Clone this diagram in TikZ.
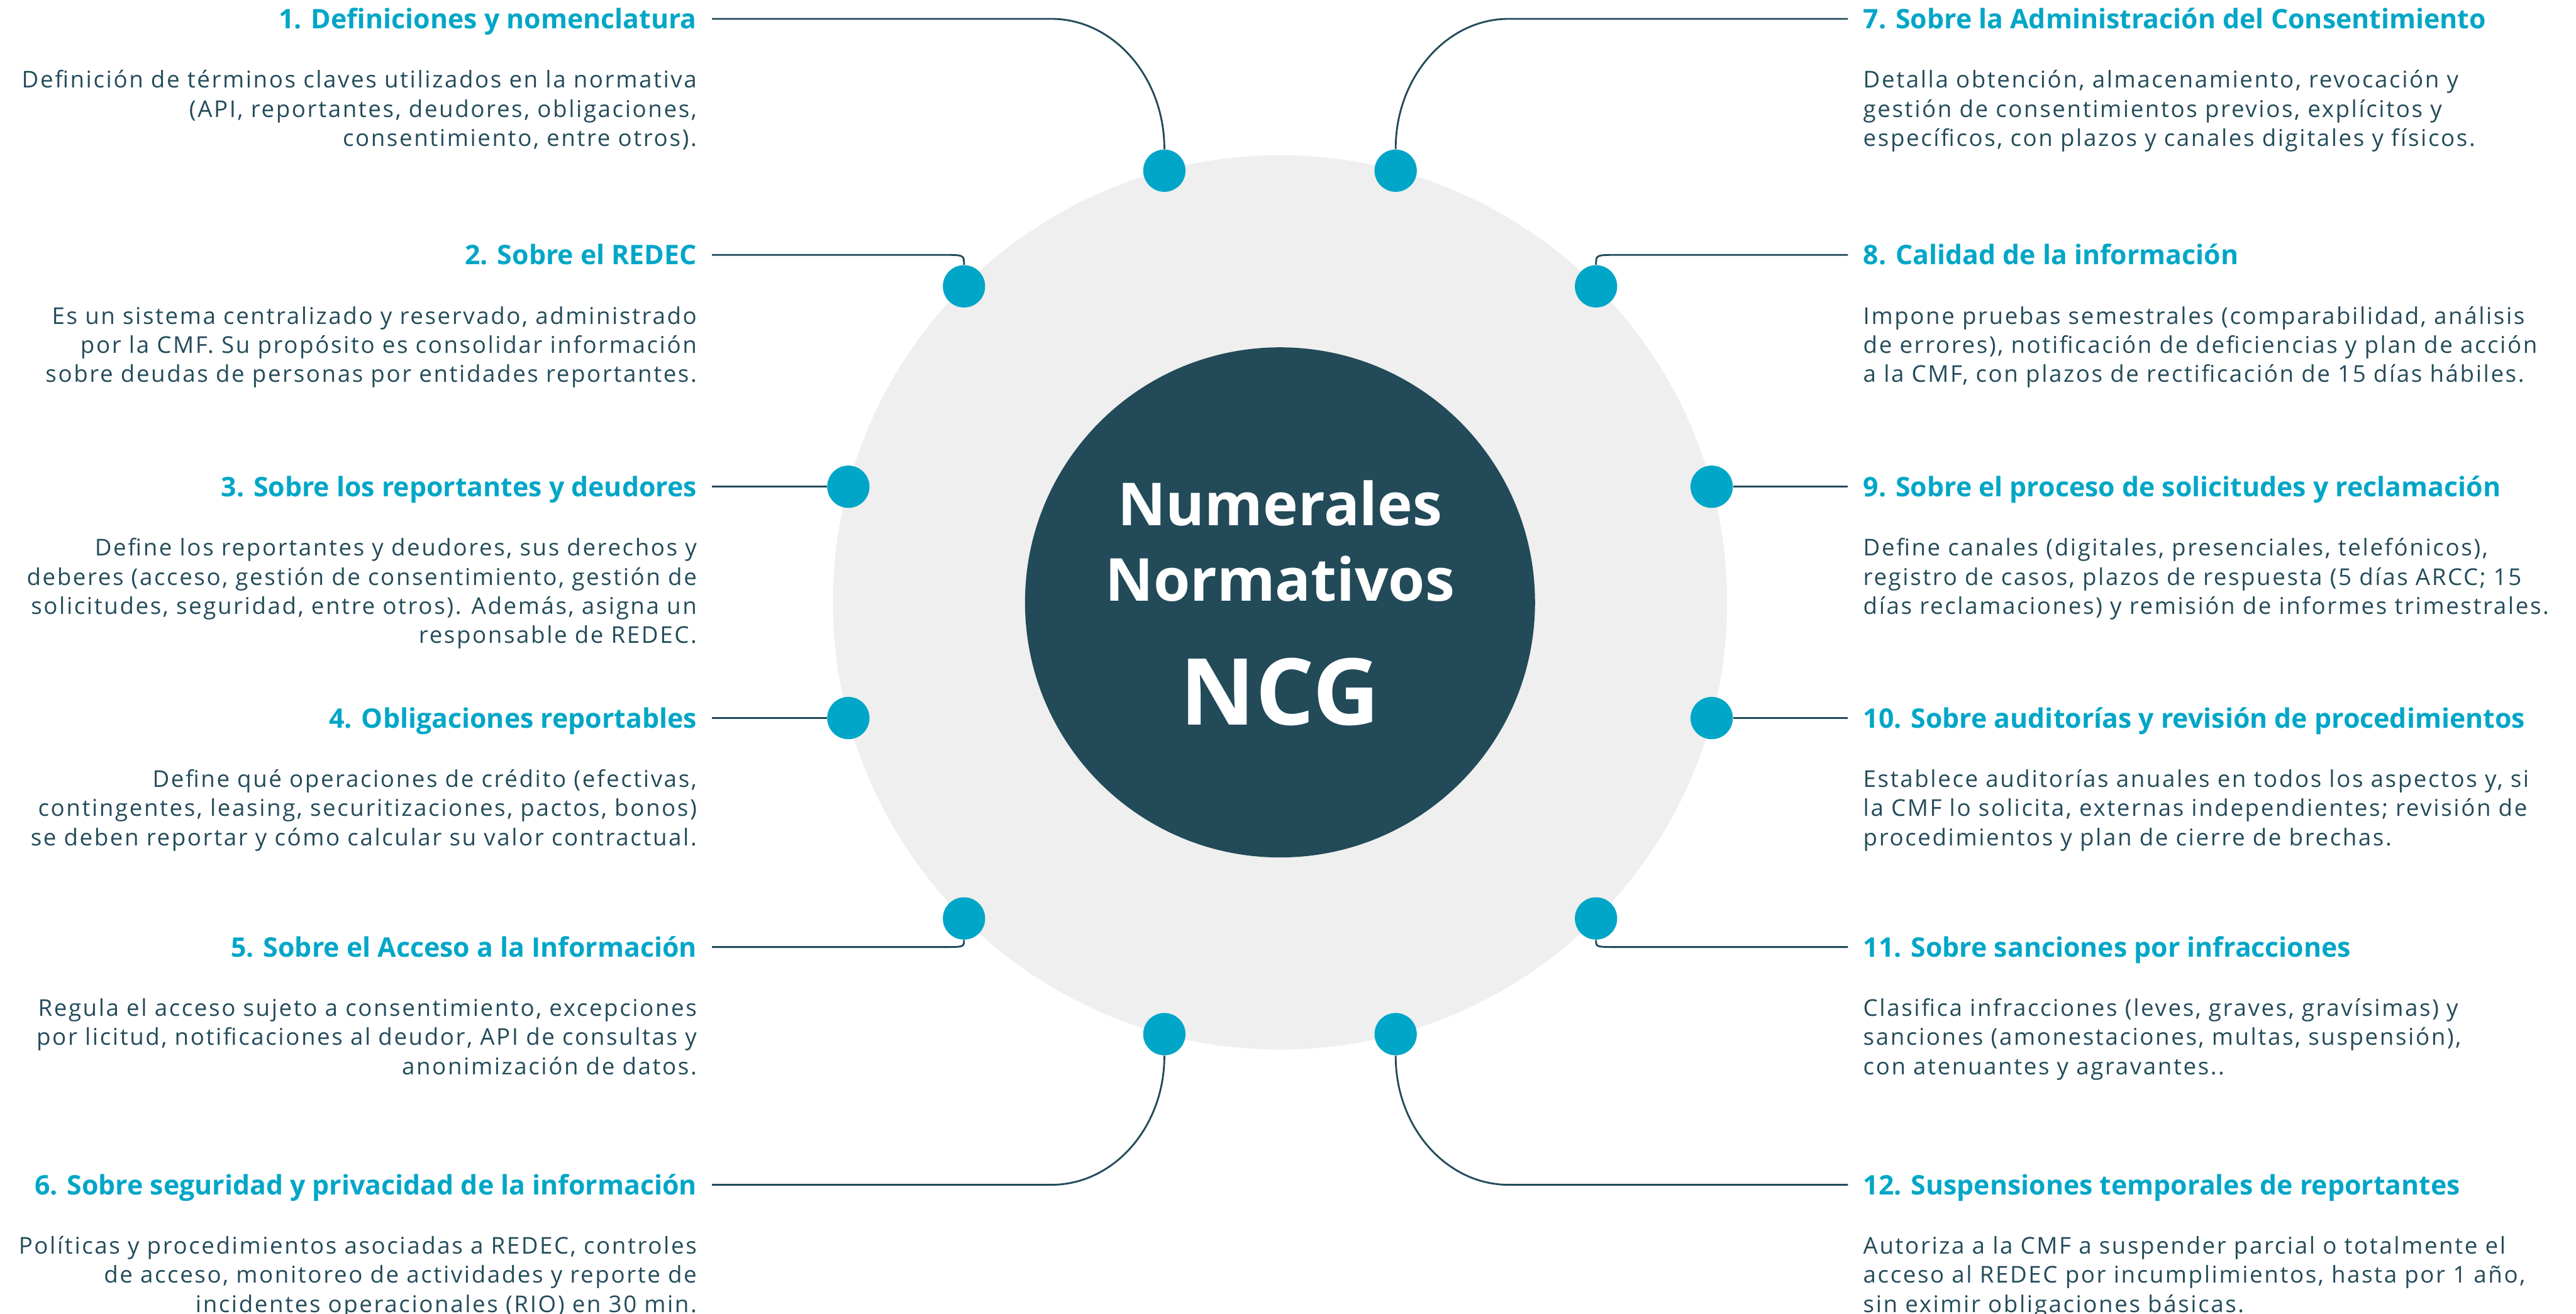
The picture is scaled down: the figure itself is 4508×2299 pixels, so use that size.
\documentclass[tikz,border=0pt]{standalone}
\usepackage{fontspec}
\setmainfont{Open Sans}
\newfontfamily\bodyfam{Open Sans}[LetterSpace=7]
\definecolor{cyanx}{HTML}{00A6C7}
\definecolor{inkx}{HTML}{234B5A}
\definecolor{greyx}{HTML}{EFEFEF}
\definecolor{darkx}{HTML}{224A59}
\newcommand\hdfont{\fontsize{13.4}{15}\selectfont\bfseries}
\newcommand\bdfont{\bodyfam\fontsize{11.5}{14.5}\selectfont}
\newcommand\rbody[1]{\begin{tabular}[t]{@{}r@{}}#1\end{tabular}}
\newcommand\lbody[1]{\begin{tabular}[t]{@{}l@{}}#1\end{tabular}}
\begin{document}
\begin{tikzpicture}[x=0.01cm,y=-0.01cm,
  dot/.style={circle,fill=cyanx,draw=none,minimum size=0.74cm,inner sep=0pt},
  conn/.style={draw=inkx,line width=0.9pt},
  headL/.style={anchor=base east,inner sep=0pt,text=cyanx,font=\hdfont},
  headR/.style={anchor=base west,inner sep=0pt,text=cyanx,font=\hdfont},
  bodyL/.style={anchor=base east,inner sep=0pt,text=inkx,font=\bdfont},
  bodyR/.style={anchor=base west,inner sep=0pt,text=inkx,font=\bdfont},
  title/.style={anchor=base,inner sep=0pt,text=white,font=\bfseries\fontsize{29.5}{35}\selectfont}]
\useasboundingbox (0,0) rectangle (4508,2299);

% central discs
\node[circle,fill=greyx,minimum size=15.64cm,inner sep=0pt] (ring) at (2240,1054) {};
\node[circle,fill=darkx,minimum size=8.92cm,inner sep=0pt] (core) at (2240,1054) {};
\node[title] (t1) at (2240,920) {Numerales};
\node[title] (t2) at (2240,1052) {Normativos};
\node[title,font=\bfseries\fontsize{46}{50}\selectfont] (t3) at (2240,1268) {NCG};

% markers on the rim
\node[dot] (d1) at (2037.6,298.6) {};
\node[dot] (d2) at (1687,501) {};
\node[dot] (d3) at (1484.6,851.6) {};
\node[dot] (d4) at (1484.6,1256.4) {};
\node[dot] (d5) at (1687,1607) {};
\node[dot] (d6) at (2037.6,1809.4) {};
\node[dot] (d7) at (2442.4,298.6) {};
\node[dot] (d8) at (2793,501) {};
\node[dot] (d9) at (2995.4,851.6) {};
\node[dot] (d10) at (2995.4,1256.4) {};
\node[dot] (d11) at (2793,1607) {};
\node[dot] (d12) at (2442.4,1809.4) {};

% line starts beside the headings
\coordinate (s1) at (1246,33);
\coordinate (s2) at (1246,446);
\coordinate (s3) at (1246,851.6);
\coordinate (s4) at (1246,1256.4);
\coordinate (s5) at (1246,1657);
\coordinate (s6) at (1246,2073);
\coordinate (s7) at (3234,33);
\coordinate (s8) at (3234,446);
\coordinate (s9) at (3234,851.6);
\coordinate (s10) at (3234,1256.4);
\coordinate (s11) at (3234,1657);
\coordinate (s12) at (3234,2073);

% connectors
\draw[conn] (s1) -- (1840,33) .. controls (1949,33) and (2038,136) .. (d1.north);
\draw[conn] (s2) -- (1650,446) .. controls (1687,446) .. (d2.north);
\draw[conn] (s3) -- (d3.west);
\draw[conn] (s4) -- (d4.west);
\draw[conn] (s5) -- (1650,1657) .. controls (1687,1657) .. (d5.south);
\draw[conn] (s6) -- (1840,2073) .. controls (1949,2073) and (2038,1972) .. (d6.south);
\draw[conn] (s7) -- (2640,33) .. controls (2531,33) and (2442,136) .. (d7.north);
\draw[conn] (s8) -- (2830,446) .. controls (2793,446) .. (d8.north);
\draw[conn] (s9) -- (d9.east);
\draw[conn] (s10) -- (d10.east);
\draw[conn] (s11) -- (2830,1657) .. controls (2793,1657) .. (d11.south);
\draw[conn] (s12) -- (2640,2073) .. controls (2531,2073) and (2442,1972) .. (d12.south);

% left column
\node[headL] (h1) at (1220,50) {1. Definiciones y nomenclatura};
\node[bodyL] (b1) at (1220,154) {\rbody{Definición de términos claves utilizados en la normativa\\(API, reportantes, deudores, obligaciones,\\consentimiento, entre otros).}};
\node[headL] (h2) at (1220,463) {2. Sobre el REDEC};
\node[bodyL] (b2) at (1220,567) {\rbody{Es un sistema centralizado y reservado, administrado\\por la CMF. Su propósito es consolidar información\\sobre deudas de personas por entidades reportantes.}};
\node[headL] (h3) at (1220,868.6) {3. Sobre los reportantes y deudores};
\node[bodyL] (b3) at (1220,972.6) {\rbody{Define los reportantes y deudores, sus derechos y\\deberes (acceso, gestión de consentimiento, gestión de\\solicitudes, seguridad, entre otros). Además, asigna un\\responsable de REDEC.}};
\node[headL] (h4) at (1220,1273.4) {4. Obligaciones reportables};
\node[bodyL] (b4) at (1220,1377.4) {\rbody{Define qué operaciones de crédito (efectivas,\\contingentes, leasing, securitizaciones, pactos, bonos)\\se deben reportar y cómo calcular su valor contractual.}};
\node[headL] (h5) at (1220,1674) {5. Sobre el Acceso a la Información};
\node[bodyL] (b5) at (1220,1778) {\rbody{Regula el acceso sujeto a consentimiento, excepciones\\por licitud, notificaciones al deudor, API de consultas y\\anonimización de datos.}};
\node[headL] (h6) at (1220,2090) {6. Sobre seguridad y privacidad de la información};
\node[bodyL] (b6) at (1220,2194) {\rbody{Políticas y procedimientos asociadas a REDEC, controles\\de acceso, monitoreo de actividades y reporte de\\incidentes operacionales (RIO) en 30 min.}};

% right column
\node[headR] (h7) at (3260,50) {7. Sobre la Administración del Consentimiento};
\node[bodyR] (b7) at (3260,154) {\lbody{Detalla obtención, almacenamiento, revocación y\\gestión de consentimientos previos, explícitos y\\específicos, con plazos y canales digitales y físicos.}};
\node[headR] (h8) at (3260,463) {8. Calidad de la información};
\node[bodyR] (b8) at (3260,567) {\lbody{Impone pruebas semestrales (comparabilidad, análisis\\de errores), notificación de deficiencias y plan de acción\\a la CMF, con plazos de rectificación de 15 días hábiles.}};
\node[headR] (h9) at (3260,868.6) {9. Sobre el proceso de solicitudes y reclamación};
\node[bodyR] (b9) at (3260,972.6) {\lbody{Define canales (digitales, presenciales, telefónicos),\\registro de casos, plazos de respuesta (5 días ARCC; 15\\días reclamaciones) y remisión de informes trimestrales.}};
\node[headR] (h10) at (3260,1273.4) {10. Sobre auditorías y revisión de procedimientos};
\node[bodyR] (b10) at (3260,1377.4) {\lbody{Establece auditorías anuales en todos los aspectos y, si\\la CMF lo solicita, externas independientes; revisión de\\procedimientos y plan de cierre de brechas.}};
\node[headR] (h11) at (3260,1674) {11. Sobre sanciones por infracciones};
\node[bodyR] (b11) at (3260,1778) {\lbody{Clasifica infracciones (leves, graves, gravísimas) y\\sanciones (amonestaciones, multas, suspensión),\\con atenuantes y agravantes..}};
\node[headR] (h12) at (3260,2090) {12. Suspensiones temporales de reportantes};
\node[bodyR] (b12) at (3260,2194) {\lbody{Autoriza a la CMF a suspender parcial o totalmente el\\acceso al REDEC por incumplimientos, hasta por 1 año,\\sin eximir obligaciones básicas.}};
\end{tikzpicture}
\end{document}
